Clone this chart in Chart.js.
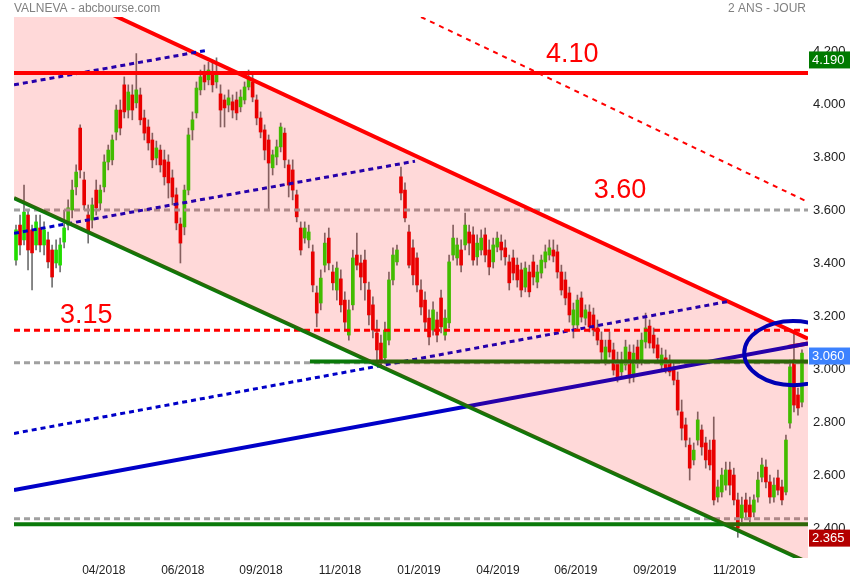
<!DOCTYPE html>
<html>
<head>
<meta charset="utf-8">
<style>
  html, body { margin: 0; padding: 0; background: #fff; }
</style>
</head>
<body>
<canvas id="graph1" width="855" height="580"></canvas>
<script src="https://cdn.jsdelivr.net/npm/chart.js@4.4.1/dist/chart.umd.min.js"></script>
<script>
// daily candles (reduced), VALNEVA, 2 years
const opens = [3.411,3.543,3.487,3.581,3.525,3.468,3.532,3.468,3.487,3.449,
  3.400,3.392,3.479,3.543,3.600,3.687,3.909,3.713,3.581,3.562,
  3.675,3.626,3.687,3.781,3.789,3.894,3.977,4.072,3.977,4.034,
  4.004,4.034,3.947,3.913,3.864,3.796,3.826,3.789,3.781,3.721,
  3.657,3.547,3.536,3.675,3.902,3.966,4.053,4.121,4.091,4.121,
  4.083,4.038,4.015,3.996,4.008,4.015,3.989,4.015,4.064,4.083,
  4.015,3.947,3.902,3.864,3.759,3.800,3.838,3.890,3.770,3.751,
  3.657,3.532,3.494,3.487,3.442,3.287,3.249,3.392,3.494,3.366,
  3.298,3.340,3.260,3.128,3.242,3.430,3.400,3.411,3.298,3.242,
  3.136,3.098,3.042,3.109,3.336,3.404,3.725,3.675,3.517,3.457,
  3.419,3.298,3.260,3.192,3.147,3.185,3.268,3.128,3.174,3.430,
  3.419,3.449,3.468,3.517,3.506,3.423,3.449,3.506,3.449,3.404,
  3.460,3.479,3.457,3.404,3.419,3.392,3.374,3.309,3.366,3.404,
  3.328,3.362,3.404,3.430,3.449,3.442,3.366,3.336,3.287,3.166,
  3.166,3.268,3.192,3.215,3.204,3.155,3.109,3.034,3.109,3.072,
  3.034,2.989,3.015,3.064,2.970,3.083,3.034,3.102,3.162,3.128,
  3.091,3.015,3.042,3.026,2.996,2.958,2.838,2.789,2.713,2.657,
  2.732,2.770,2.721,2.694,2.732,2.517,2.536,2.562,2.619,2.600,
  2.506,2.438,2.506,2.487,2.460,2.517,2.592,2.630,2.574,2.517,
  2.589,2.555,2.536,2.796,3.034,2.902,2.875];
const highs = [3.543,3.581,3.694,3.600,3.543,3.581,3.581,3.555,3.517,3.468,
  3.487,3.494,3.600,3.638,3.713,3.770,3.921,3.743,3.619,3.645,
  3.713,3.694,3.808,3.845,3.883,3.996,4.015,4.102,4.072,4.072,
  4.190,4.060,3.977,3.940,3.890,3.860,3.845,3.826,3.808,3.751,
  3.683,3.570,3.694,3.909,3.970,4.083,4.128,4.147,4.158,4.166,
  4.174,4.072,4.034,4.053,4.034,4.045,4.053,4.083,4.128,4.109,
  4.034,3.970,3.921,3.883,3.826,3.864,3.928,3.909,3.789,3.789,
  3.675,3.555,3.555,3.543,3.468,3.313,3.374,3.513,3.532,3.392,
  3.404,3.374,3.291,3.260,3.449,3.513,3.430,3.449,3.328,3.272,
  3.185,3.128,3.177,3.366,3.457,3.468,3.762,3.702,3.543,3.487,
  3.438,3.336,3.291,3.223,3.253,3.215,3.298,3.223,3.430,3.543,
  3.494,3.487,3.588,3.543,3.536,3.506,3.525,3.532,3.487,3.494,
  3.517,3.506,3.487,3.430,3.449,3.419,3.400,3.404,3.392,3.430,
  3.392,3.430,3.468,3.487,3.487,3.468,3.392,3.366,3.309,3.249,
  3.279,3.291,3.242,3.242,3.230,3.185,3.140,3.109,3.140,3.098,
  3.064,3.064,3.109,3.091,3.091,3.109,3.136,3.211,3.185,3.155,
  3.117,3.079,3.072,3.053,3.026,2.989,2.883,2.815,2.740,2.721,
  2.838,2.789,2.743,2.732,2.819,2.581,2.626,2.649,2.649,2.626,
  2.532,2.517,2.532,2.517,2.525,2.611,2.664,2.657,2.600,2.589,
  2.619,2.581,2.751,3.034,3.140,2.928,3.072];
const lows = [3.392,3.430,3.468,3.374,3.298,3.449,3.442,3.430,3.381,3.309,
  3.381,3.366,3.457,3.525,3.570,3.657,3.721,3.600,3.475,3.532,
  3.581,3.600,3.668,3.751,3.770,3.864,3.883,3.947,3.947,3.940,
  3.985,3.921,3.864,3.826,3.759,3.770,3.743,3.694,3.645,3.619,
  3.525,3.400,3.506,3.657,3.864,3.947,4.034,4.053,4.072,4.045,
  4.060,3.913,3.913,3.970,3.947,3.940,3.970,4.000,4.053,4.008,
  3.921,3.872,3.789,3.600,3.732,3.770,3.819,3.759,3.649,3.638,
  3.555,3.430,3.475,3.457,3.291,3.159,3.223,3.366,3.374,3.298,
  3.260,3.215,3.147,3.109,3.223,3.374,3.298,3.260,3.166,3.117,
  3.026,3.008,3.026,3.091,3.317,3.392,3.638,3.555,3.381,3.317,
  3.291,3.204,3.147,3.091,3.128,3.102,3.136,3.109,3.155,3.411,
  3.392,3.366,3.449,3.430,3.392,3.392,3.430,3.404,3.355,3.381,
  3.442,3.411,3.392,3.298,3.336,3.309,3.272,3.291,3.272,3.317,
  3.306,3.343,3.381,3.411,3.404,3.343,3.279,3.242,3.177,3.117,
  3.147,3.177,3.166,3.140,3.125,3.091,3.034,3.015,3.045,2.977,
  2.951,2.966,2.996,2.947,2.951,3.004,3.015,3.079,3.079,3.060,
  3.023,2.996,2.985,2.974,2.940,2.826,2.732,2.706,2.581,2.638,
  2.713,2.675,2.626,2.619,2.487,2.498,2.517,2.543,2.525,2.487,
  2.365,2.423,2.438,2.423,2.442,2.498,2.574,2.551,2.494,2.498,
  2.525,2.487,2.525,2.777,2.838,2.826,2.857];
const closes = [3.525,3.468,3.592,3.449,3.438,3.555,3.468,3.525,3.404,3.347,
  3.449,3.468,3.532,3.608,3.675,3.743,3.751,3.619,3.517,3.619,
  3.608,3.675,3.781,3.826,3.864,3.977,3.909,3.970,4.045,3.977,
  4.053,3.940,3.890,3.853,3.789,3.834,3.770,3.725,3.702,3.649,
  3.551,3.475,3.675,3.883,3.940,4.060,4.102,4.083,4.128,4.072,
  4.121,3.977,3.985,4.023,3.977,3.966,4.026,4.064,4.102,4.026,
  3.947,3.894,3.826,3.777,3.808,3.838,3.913,3.789,3.694,3.675,
  3.574,3.449,3.532,3.517,3.317,3.211,3.343,3.475,3.400,3.325,
  3.381,3.242,3.177,3.223,3.419,3.392,3.347,3.325,3.204,3.147,
  3.072,3.023,3.147,3.336,3.430,3.449,3.664,3.570,3.392,3.355,
  3.317,3.234,3.177,3.121,3.223,3.128,3.159,3.192,3.404,3.494,
  3.468,3.392,3.543,3.475,3.411,3.475,3.494,3.430,3.385,3.468,
  3.494,3.449,3.423,3.325,3.362,3.336,3.298,3.381,3.291,3.347,
  3.366,3.411,3.442,3.457,3.426,3.366,3.298,3.268,3.204,3.223,
  3.260,3.196,3.223,3.159,3.147,3.109,3.064,3.083,3.064,2.996,
  2.970,3.034,3.083,2.966,3.060,3.026,3.109,3.155,3.098,3.079,
  3.042,3.053,3.004,2.989,2.958,2.845,2.777,2.732,2.626,2.694,
  2.808,2.706,2.657,2.638,2.506,2.555,2.600,2.619,2.562,2.506,
  2.400,2.487,2.460,2.442,2.506,2.581,2.638,2.574,2.517,2.562,
  2.543,2.506,2.732,3.008,2.864,2.853,3.060];

const tickPos = [21.9, 41.6, 61.1, 80.8, 100.5, 120.2, 139.6, 159.3, 179.1];
const tickLabels = ['04/2018','06/2018','09/2018','11/2018','01/2019','04/2019','06/2019','09/2019','11/2019'];
const yTicks = [2.4, 2.6, 2.8, 3.0, 3.2, 3.4, 3.6, 3.8, 4.0, 4.2];

// drawn lines: [x (candle index), price] pairs
const channelTop = [[-0.5, 4.510], [197.5, 3.114]];
const channelBottom = [[-0.5, 3.645], [197.5, 2.270]];
const blueTrend = [[-0.5, 2.543], [197.5, 3.096]];
const blueDot1 = [[-0.5, 4.072], [47.1, 4.201]];
const blueDot2 = [[-0.5, 3.512], [99.5, 3.784]];
const blueDot3 = [[-0.5, 2.757], [177.3, 3.254]];
const redDotFall = [[101, 4.328], [197.5, 3.630]];
const redStub = [[192.5, 3.083], [197.5, 3.096]];
const level410 = 4.117, level360 = 3.600, level315 = 3.146, level302 = 3.024, level302g = 3.028, level243 = 2.435, level241 = 2.414;
const greenStart = 73.3;

const xs = closes.map((c, i) => i);
const up = closes.map((c, i) => c >= opens[i]);

function seg(pts, color, width, dash, order) {
    return {
        type: 'line',
        data: pts.map(p => ({x: p[0], y: p[1]})),
        borderColor: color,
        borderWidth: width,
        borderDash: dash || [],
        pointRadius: 0,
        fill: false,
        tension: 0,
        clip: 0,
        order: order || 2,
    };
}
const hline = (v, x0, color, width, dash, order) => seg([[x0, v], [197.5, v]], color, width, dash, order);

const GREEN = '#0a7a0a', RED = '#ff0000', BLUE = '#0000c8', GREY = '#a0a0a0';

const datasets = [
    // 0: translucent channel, drawn over everything (lowest order)
    Object.assign(seg(channelTop, 'rgba(0,0,0,0)', 0), {fill: 1, backgroundColor: 'rgba(255,0,0,0.15)', order: -1}),
    // 1: channel bottom
    seg(channelBottom, GREEN, 4),
    {
        type: 'bar',
        data: xs.map(i => ({x: i, y: [lows[i], highs[i]]})),
        backgroundColor: '#707070',
        barThickness: 1,
        grouped: false,
        order: 10,
    },
    {
        type: 'bar',
        data: xs.map(i => ({x: i, y: [opens[i], closes[i]]})),
        backgroundColor: up.map(u => u ? '#22dd00' : '#e60000'),
        barThickness: 3,
        minBarLength: 1,
        grouped: false,
        order: 9,
    },
    hline(level360, -0.5, GREY, 3, [6, 4], 3),
    hline(level302, -0.5, GREY, 3, [6, 4], 3),
    hline(level243, -0.5, GREY, 3, [6, 4], 3),
    hline(level315, -0.5, RED, 3, [6, 4]),
    hline(level302g, greenStart, GREEN, 4),
    hline(level241, -0.5, GREEN, 4),
    hline(level410, -0.5, RED, 4),
    seg(blueTrend, BLUE, 4),
    seg(blueDot1, BLUE, 3, [5, 4]),
    seg(blueDot2, BLUE, 3, [5, 4]),
    seg(blueDot3, BLUE, 3, [5, 4]),
    seg(redDotFall, RED, 2, [5, 5]),
    seg(channelTop, RED, 4),
    seg(redStub, RED, 4),
];

const bigLabels = [
    {text: '4.10', x: 138.7, y: 4.158},
    {text: '3.60', x: 150.6, y: 3.645},
    {text: '3.15', x: 17.5, y: 3.174},
];
const valueBoxes = [
    {text: '4.190', at: 4.166, bg: '#007a00'},
    {text: '3.060', at: 3.049, bg: '#3c82ff'},
    {text: '2.365', at: 2.362, bg: '#b40000'},
];
const circle = {x: 193.8, y: 3.06, rx: 12.2, ry: 0.121};

const overlay = {
    id: 'overlay',
    afterDraw(chart) {
        const {ctx, chartArea: a, scales: {x, y}} = chart;
        ctx.save();
        // ellipse around last price
        ctx.save();
        ctx.beginPath();
        ctx.rect(a.left, a.top, a.right - a.left, a.bottom - a.top);
        ctx.clip();
        const cx = x.getPixelForValue(circle.x), cy = y.getPixelForValue(circle.y);
        ctx.beginPath();
        ctx.ellipse(cx, cy, x.getPixelForValue(circle.x + circle.rx) - cx, cy - y.getPixelForValue(circle.y + circle.ry), 0, 0, Math.PI * 2);
        ctx.strokeStyle = '#0000b4';
        ctx.lineWidth = 4;
        ctx.stroke();
        ctx.restore();

        ctx.fillStyle = '#ff0000';
        ctx.font = '27px "Liberation Sans", Arial, sans-serif';
        ctx.textAlign = 'center';
        ctx.textBaseline = 'alphabetic';
        bigLabels.forEach(l => ctx.fillText(l.text, x.getPixelForValue(l.x), y.getPixelForValue(l.y)));

        ctx.font = '13px "Liberation Sans", Arial, sans-serif';
        ctx.textAlign = 'left';
        ctx.textBaseline = 'middle';
        valueBoxes.forEach(b => {
            const py = y.getPixelForValue(b.at);
            ctx.fillStyle = b.bg;
            ctx.fillRect(a.right + 1, py - 8.5, 41, 17);
            ctx.fillStyle = '#fff';
            ctx.fillText(b.text, a.right + 4, py + 0.5);
        });

        ctx.fillStyle = '#808080';
        ctx.font = '12px "Liberation Sans", Arial, sans-serif';
        ctx.fillText('VALNEVA - abcbourse.com', 14, 9);
        ctx.textAlign = 'right';
        ctx.fillText('2 ANS - JOUR', 806, 9);
        ctx.restore();
    }
};

const config = {
    type: 'bar',
    data: {datasets: datasets},
    options: {
        responsive: false,
        animation: false,
        layout: {padding: {left: 14, top: 17, right: 0, bottom: 0}},
        plugins: {
            legend: {display: false},
            tooltip: {enabled: false},
            filler: {drawTime: 'beforeDatasetDraw'},
        },
        scales: {
            x: {
                type: 'linear',
                min: -0.5,
                max: 197.5,
                offset: false,
                grid: {display: false, drawTicks: false},
                border: {display: false},
                afterBuildTicks: s => { s.ticks = tickPos.map(v => ({value: v})); },
                afterFit: s => { s.height = 22; },
                ticks: {
                    autoSkip: false,
                    maxRotation: 0,
                    padding: 5,
                    color: '#222',
                    font: {family: '"Liberation Sans", Arial, sans-serif', size: 12},
                    callback: (v, i) => tickLabels[i],
                }
            },
            y: {
                position: 'right',
                min: 2.287,
                max: 4.328,
                grid: {display: false, drawTicks: false},
                border: {display: false},
                afterBuildTicks: s => { s.ticks = yTicks.map(v => ({value: v})); },
                afterFit: s => { s.width = 47; },
                ticks: {
                    padding: 5,
                    color: '#222',
                    font: {family: '"Liberation Sans", Arial, sans-serif', size: 13},
                    callback: v => v.toFixed(3),
                }
            }
        }
    },
    plugins: [overlay]
};

const myChart = new Chart(document.getElementById('graph1'), config);
</script>
</body>
</html>
